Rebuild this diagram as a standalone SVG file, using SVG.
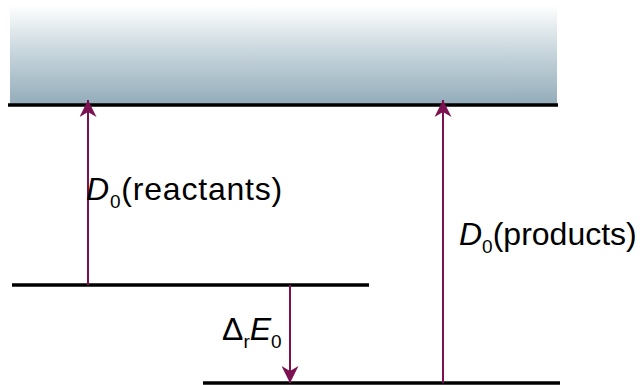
<svg xmlns="http://www.w3.org/2000/svg" width="640" height="385" viewBox="0 0 640 385">
<defs>
<linearGradient id="g" x1="0" y1="0" x2="0" y2="1">
<stop offset="0" stop-color="#ffffff"/>
<stop offset="0.45" stop-color="#cad7de"/>
<stop offset="1" stop-color="#92acb9"/>
</linearGradient>
<marker id="ah" viewBox="0 0 10 10" refX="10" refY="5" markerWidth="17" markerHeight="17" markerUnits="userSpaceOnUse" orient="auto">
<path d="M0,0 L10,5 L0,10 L3,5 Z" fill="#7b1151"/>
</marker>
<style>
.lvl{stroke:#000;stroke-width:3.5;fill:none}
.arr{stroke:#7b1151;stroke-width:2;fill:none;marker-end:url(#ah)}
.t{font-family:"Liberation Sans",Arial,sans-serif;font-size:32px;fill:#000}
.s{font-size:19px}
</style>
</defs>
<g id="continuum">
<rect x="10" y="5" width="547" height="100" fill="url(#g)"/>
<line class="lvl" x1="8" y1="105" x2="558" y2="105"/>
</g>
<g id="reactants-level">
<line class="lvl" x1="12" y1="285" x2="369" y2="285"/>
</g>
<g id="products-level">
<line class="lvl" x1="203" y1="383" x2="560" y2="383"/>
</g>
<g id="connectors">
<line class="arr" x1="88" y1="285" x2="88" y2="100"/>
<line class="arr" x1="443" y1="383" x2="443" y2="100"/>
<line class="arr" x1="290" y1="285" x2="290" y2="383"/>
</g>
<g id="labels">
<text class="t" x="86" y="200" letter-spacing="0.8"><tspan font-style="italic">D</tspan><tspan class="s" dy="8">0</tspan><tspan dy="-8">(reactants)</tspan></text>
<text class="t" x="459" y="245"><tspan font-style="italic">D</tspan><tspan class="s" dy="8">0</tspan><tspan dy="-8">(products)</tspan></text>
<text class="t" x="222" y="340">Δ<tspan class="s" dy="8">r</tspan><tspan dy="-8" font-style="italic">E</tspan><tspan class="s" dy="8">0</tspan></text>
</g>
</svg>
